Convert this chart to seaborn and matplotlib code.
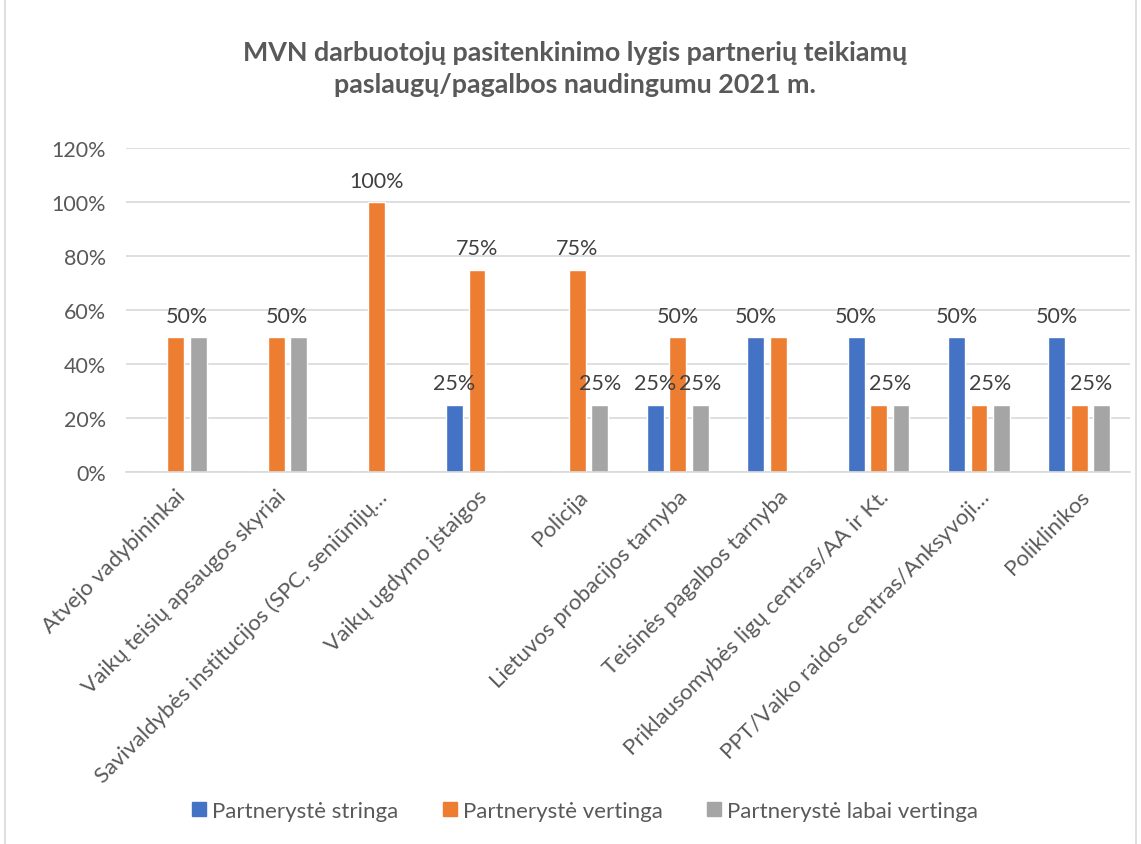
import pandas as pd
import matplotlib
matplotlib.use("Agg")
import matplotlib.pyplot as plt
import seaborn as sns
from matplotlib.patches import Rectangle
from matplotlib.lines import Line2D

categories = [
    "Atvejo vadybininkai",
    "Vaikų teisių apsaugos skyriai",
    "Savivaldybės institucijos (SPC, seniūnijų…",
    "Vaikų ugdymo įstaigos",
    "Policija",
    "Lietuvos probacijos tarnyba",
    "Teisinės pagalbos tarnyba",
    "Priklausomybės ligų centras/AA ir Kt.",
    "PPT/Vaiko raidos centras/Anksyvoji…",
    "Poliklinikos",
]
series = ["Partnerystė stringa", "Partnerystė vertinga", "Partnerystė labai vertinga"]
stringa = [0, 0, 0, 25, 0, 25, 50, 50, 50, 50]
vertinga = [50, 50, 100, 75, 75, 50, 50, 25, 25, 25]
labai = [50, 50, 0, 0, 25, 25, 0, 25, 25, 25]

# data labels as shown in the picture (Excel hid the overlapping ones)
stringa_labels = ["", "", "", "25%", "", "25%", "50%", "50%", "50%", "50%"]
vertinga_labels = ["50%", "50%", "100%", "75%", "75%", "50%", "", "25%", "25%", "25%"]
labai_labels = ["", "", "", "", "25%", "25%", "", "", "", ""]

colors = ["#4472C4", "#ED7D31", "#A5A5A5"]
text_col = "#595959"

df = pd.DataFrame({
    "kategorija": categories * 3,
    "serija": [s for s in series for _ in categories],
    "reiksme": stringa + vertinga + labai,
})

sns.set_style("white")
plt.rcParams["font.family"] = ["Lato", "DejaVu Sans"]

fig = plt.figure(figsize=(11.41, 8.45), dpi=100)
ax = fig.add_axes([0.110, 0.4402, 0.880, 0.3834])

sns.barplot(data=df, x="kategorija", y="reiksme", hue="serija", palette=colors,
            width=0.672, gap=0.25, ax=ax, legend=False, saturation=1)

ax.set_ylim(0, 120)
ax.set_yticks(range(0, 121, 20))
ax.set_yticklabels([f"{v}%" for v in range(0, 121, 20)], fontsize=15.5, color=text_col)
ax.yaxis.grid(True, color="#D9D9D9", linewidth=1.2)
ax.set_axisbelow(True)
for s in ["top", "right", "left"]:
    ax.spines[s].set_visible(False)
ax.spines["bottom"].set_color("#D9D9D9")
ax.spines["bottom"].set_linewidth(1.2)
ax.tick_params(axis="both", length=0)
ax.tick_params(axis="y", pad=14)
ax.set_xlabel("")
ax.set_ylabel("")
ax.set_xticks(range(len(categories)))
ax.set_xticklabels(categories, rotation=45, ha="right", rotation_mode="anchor",
                   fontsize=16, color=text_col)
ax.tick_params(axis="x", pad=10)

# data labels
all_labels = [stringa_labels, vertinga_labels, labai_labels]
all_vals = [stringa, vertinga, labai]
for k, cont in enumerate(ax.containers):
    for i, bar in enumerate(cont):
        lab = all_labels[k][i]
        if not lab:
            continue
        x = bar.get_x() + bar.get_width() / 2
        if k == 1 and labai[i] == vertinga[i]:
            g = ax.containers[2][i]
            x = (x + g.get_x() + g.get_width() / 2) / 2
        ax.annotate(lab, (x, all_vals[k][i]), xytext=(0, 8), textcoords="offset points",
                    ha="center", va="bottom", fontsize=15.5, color="#404040")

fig.text(0.504, 0.918, "MVN darbuotojų pasitenkinimo lygis partnerių teikiamų\npaslaugų/pagalbos naudingumu 2021 m.",
         ha="center", va="center", fontsize=19.4, fontweight="bold", color=text_col,
         linespacing=1.4)

handles = [Line2D([], [], marker="s", linestyle="", markersize=10, color=c) for c in colors]
fig.legend(handles, series, loc="center", bbox_to_anchor=(0.513, 0.039), ncol=3,
           frameon=False, fontsize=16, labelcolor=text_col, handlelength=0.6,
           handletextpad=0.3, columnspacing=2.0)

fig.patches.append(Rectangle((0.004, -0.01), 0.992, 1.02, transform=fig.transFigure,
                             fill=False, edgecolor="#D9D9D9", linewidth=1.2))

fig.savefig("out.png", dpi=100)
